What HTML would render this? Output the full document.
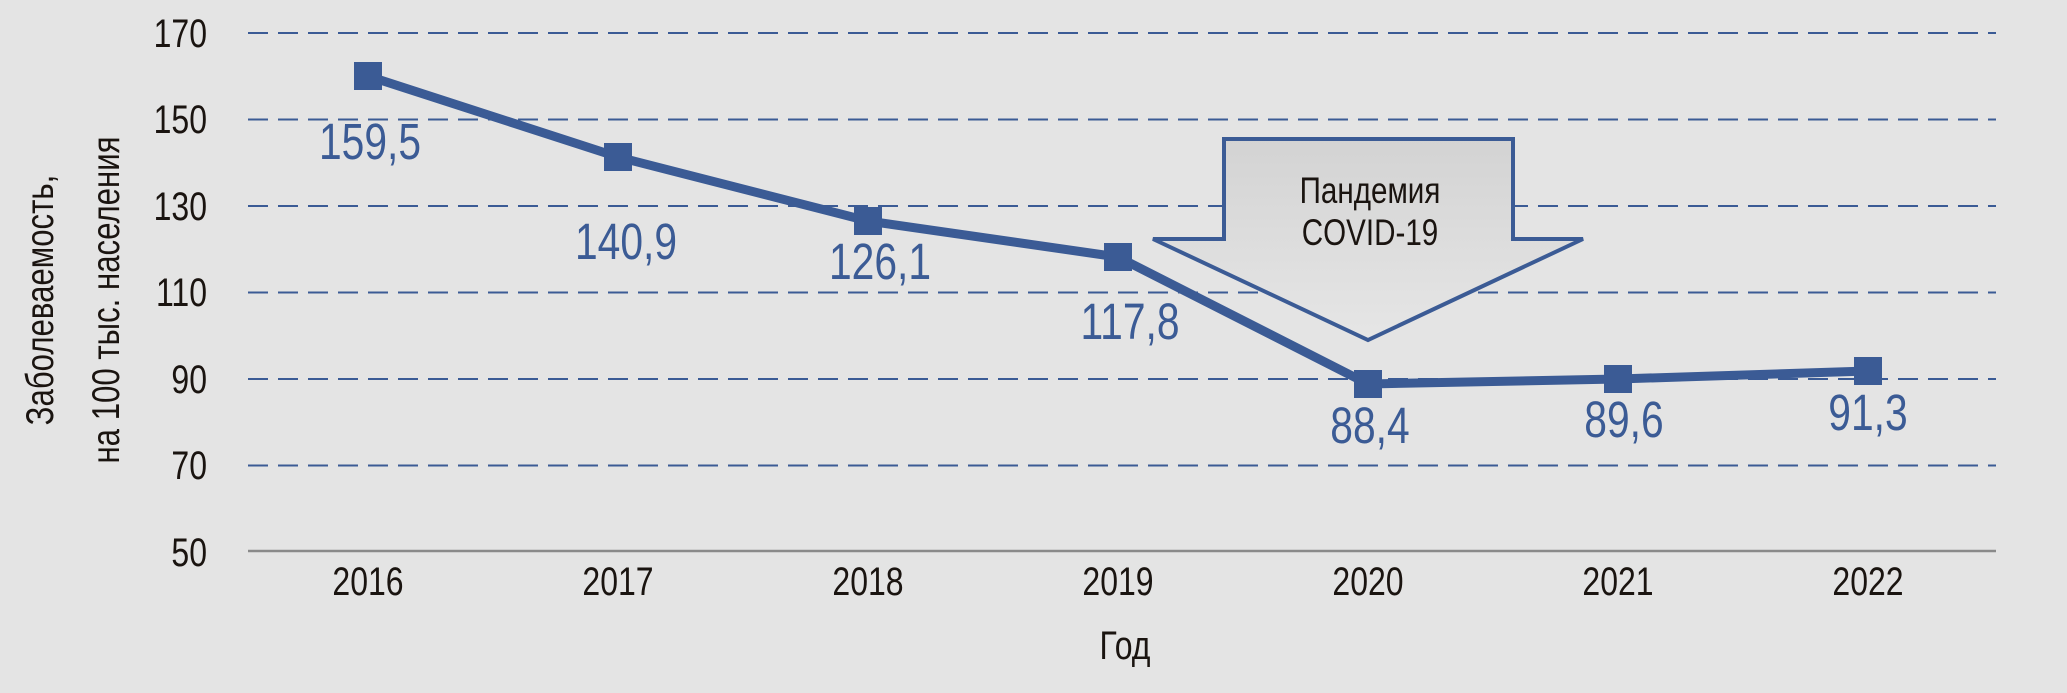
<!DOCTYPE html>
<html><head><meta charset="utf-8"><style>
html,body{margin:0;padding:0;background:#e4e4e4;}
svg{display:block;}
text{font-family:"Liberation Sans Narrow","Liberation Sans",sans-serif;}
</style></head><body>
<svg width="2067" height="693" viewBox="0 0 2067 693" xmlns="http://www.w3.org/2000/svg">
<defs><linearGradient id="g" x1="0" y1="0" x2="0" y2="1"><stop offset="0" stop-color="#d3d3d3"/><stop offset="1" stop-color="#e6e6e6"/></linearGradient></defs>
<rect width="2067" height="693" fill="#e4e4e4"/>
<g stroke="#3b5b95" stroke-width="2" stroke-dasharray="20,10">
<line x1="248" y1="33" x2="1996" y2="33"/>
<line x1="248" y1="119.5" x2="1996" y2="119.5"/>
<line x1="248" y1="206" x2="1996" y2="206"/>
<line x1="248" y1="292.5" x2="1996" y2="292.5"/>
<line x1="248" y1="379" x2="1996" y2="379"/>
<line x1="248" y1="465.5" x2="1996" y2="465.5"/>
</g>
<line x1="248" y1="551" x2="1996" y2="551" stroke="#8a8a8a" stroke-width="2.5"/>
<g font-size="40" fill="#1a1410" text-anchor="end">
<g transform="translate(207,47) scale(0.8,1)"><text>170</text></g>
<g transform="translate(207,133) scale(0.8,1)"><text>150</text></g>
<g transform="translate(207,220) scale(0.8,1)"><text>130</text></g>
<g transform="translate(207,306) scale(0.8,1)"><text>110</text></g>
<g transform="translate(207,393) scale(0.8,1)"><text>90</text></g>
<g transform="translate(207,479) scale(0.8,1)"><text>70</text></g>
<g transform="translate(207,566) scale(0.8,1)"><text>50</text></g>
</g>
<g font-size="40" fill="#1a1410" text-anchor="middle">
<g transform="translate(368,595) scale(0.8,1)"><text>2016</text></g>
<g transform="translate(618,595) scale(0.8,1)"><text>2017</text></g>
<g transform="translate(868,595) scale(0.8,1)"><text>2018</text></g>
<g transform="translate(1118,595) scale(0.8,1)"><text>2019</text></g>
<g transform="translate(1368,595) scale(0.8,1)"><text>2020</text></g>
<g transform="translate(1618,595) scale(0.8,1)"><text>2021</text></g>
<g transform="translate(1868,595) scale(0.8,1)"><text>2022</text></g>
<g transform="translate(1125,659) scale(0.8,1)"><text>Год</text></g>
</g>
<g font-size="39" fill="#1a1410" text-anchor="middle">
<g transform="translate(53,300) rotate(-90) scale(0.8,1)"><text>Заболеваемость,</text></g>
<g transform="translate(119,300) rotate(-90) scale(0.8,1)"><text>на 100 тыс. населения</text></g>
</g>
<polygon points="1224,139 1513,139 1513,239 1583,239 1368,340 1153,239 1224,239" fill="url(#g)" stroke="#3b5b95" stroke-width="4" stroke-linejoin="miter"/>
<g font-size="37" fill="#1a1410" text-anchor="middle">
<g transform="translate(1370,203) scale(0.8,1)"><text>Пандемия</text></g>
<g transform="translate(1370,245) scale(0.8,1)"><text>COVID-19</text></g>
</g>
<polyline points="368,76 618,157 868,221 1118,257 1368,384 1618,379 1868,371" fill="none" stroke="#3b5b95" stroke-width="9" stroke-linejoin="round"/>
<g fill="#3b5b95">
<rect x="354" y="62" width="28" height="28"/><rect x="604" y="143" width="28" height="28"/>
<rect x="854" y="207" width="28" height="28"/><rect x="1104" y="243" width="28" height="28"/>
<rect x="1354" y="370" width="28" height="28"/><rect x="1604" y="365" width="28" height="28"/>
<rect x="1854" y="357" width="28" height="28"/>
</g>
<g font-size="51" fill="#3b5b95" text-anchor="middle">
<g transform="translate(370,159) scale(0.8,1)"><text>159,5</text></g>
<g transform="translate(626,259) scale(0.8,1)"><text>140,9</text></g>
<g transform="translate(880,279) scale(0.8,1)"><text>126,1</text></g>
<g transform="translate(1130,339) scale(0.8,1)"><text>117,8</text></g>
<g transform="translate(1370,443) scale(0.8,1)"><text>88,4</text></g>
<g transform="translate(1624,437) scale(0.8,1)"><text>89,6</text></g>
<g transform="translate(1868,430) scale(0.8,1)"><text>91,3</text></g>
</g>
</svg>
</body></html>
